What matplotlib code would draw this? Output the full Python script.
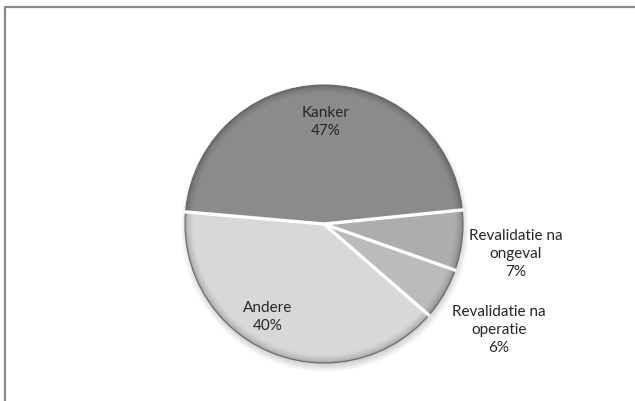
import numpy as np
import matplotlib.pyplot as plt
from matplotlib.patches import Rectangle, Circle
from matplotlib.colors import to_rgb

# slices, clockwise from the left
labels = ['Kanker', 'Revalidatie na\nongeval', 'Revalidatie na\noperatie', 'Andere']
values = [47, 7, 6, 40]
colors = ['#8b8b8b', '#adadad', '#bbbbbb', '#d8d8d8']

# text positions in pixels (x from left, y from top)
label_pos = [(326, 122), (516, 254), (499, 330), (268, 317)]

W, H = 635, 401
cx, cy, R = 324, H - 224, 139
start = 175

fig = plt.figure(figsize=(6.35, 4.01), dpi=100)
ax = fig.add_axes([0, 0, 1, 1])
ax.axis('off')

# outer frame
fig.patches.append(Rectangle((4.5 / W, -0.05), 1.2, (H - 6.5) / H + 0.05,
                             transform=fig.transFigure, fill=False,
                             edgecolor='#8a8a8a', linewidth=1.6, zorder=0))

# soft shadow under the pie
for i in range(10):
    ax.add_patch(Circle((cx + 1, cy - 4), R + 5 - i * 0.9, color='#000000',
                        alpha=0.02, lw=0, zorder=1))

# bevel: stack of wedges, darker at the rim and lighter towards the face
steps = 8
for k in range(steps + 1):
    t = k / steps
    shade = 0.72 + 0.28 * np.sqrt(t)
    cols = [tuple(np.clip(np.array(to_rgb(c)) * shade, 0, 1)) for c in colors]
    wedges, _ = ax.pie(values, colors=cols, startangle=start, counterclock=False,
                       center=(cx, cy), radius=R - k * 1.0,
                       wedgeprops=dict(linewidth=0))
    for w in wedges:
        w.set_zorder(2 + k * 0.01)

# thin outline round the pie
ax.add_patch(Circle((cx, cy), R, fill=False, edgecolor='#6a6a6a', lw=0.8, zorder=3))

# white gaps between the slices
bounds = start - 360 * np.cumsum([0] + values[:-1]) / sum(values)
for a in np.deg2rad(bounds):
    ax.plot([cx, cx + (R + 1) * np.cos(a)], [cy, cy + (R + 1) * np.sin(a)],
            color='white', lw=2.4, solid_capstyle='butt', zorder=4)

for lab, v, (x, y) in zip(labels, values, label_pos):
    ax.text(x, H - y, f'{lab}\n{v}%', ha='center', va='center',
            fontsize=11, family='Lato', color='#262626', linespacing=1.35,
            zorder=5)

ax.set_xlim(0, W)
ax.set_ylim(0, H)
ax.set_aspect('equal')
fig.savefig('out.png', dpi=100)
